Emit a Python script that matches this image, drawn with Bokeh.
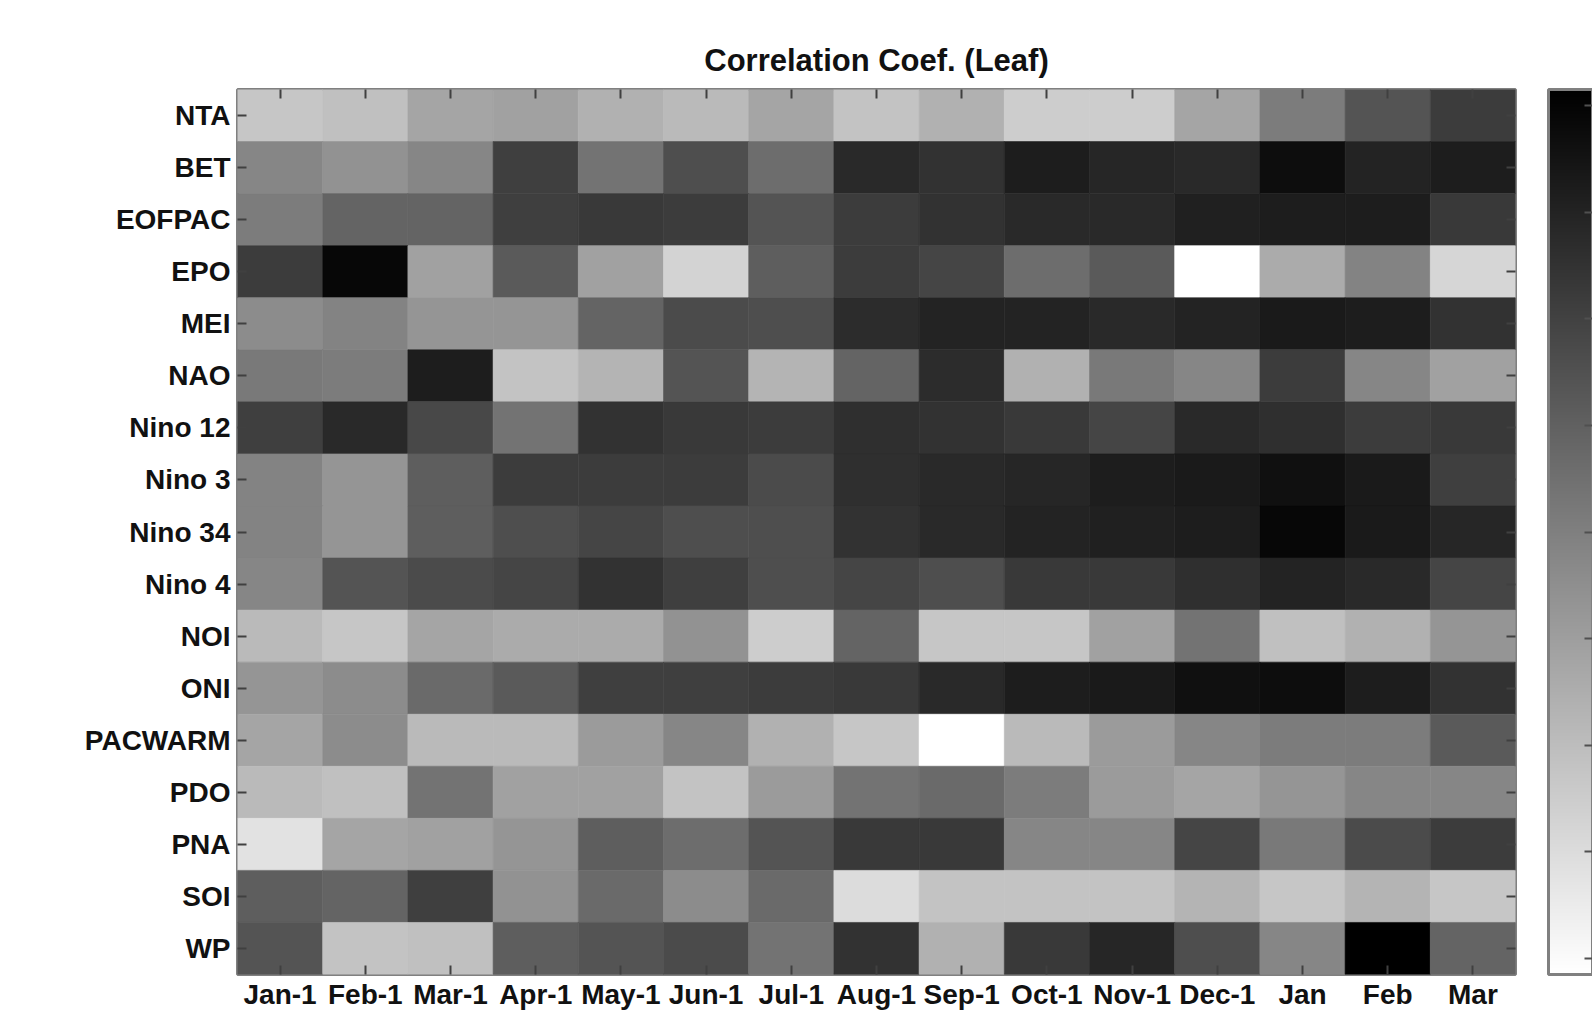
from bokeh.plotting import figure
from bokeh.models import (ColumnDataSource, LinearColorMapper, ColorBar, FixedTicker,
                          FactorRange, CategoricalAxis, CustomJSTickFormatter)
from bokeh.embed import file_html
from bokeh.resources import INLINE

title_text = "Correlation Coef. (Leaf)"

months = ["Jan-1", "Feb-1", "Mar-1", "Apr-1", "May-1", "Jun-1", "Jul-1", "Aug-1",
          "Sep-1", "Oct-1", "Nov-1", "Dec-1", "Jan", "Feb", "Mar"]

indices = ["NTA", "BET", "EOFPAC", "EPO", "MEI", "NAO", "Nino 12", "Nino 3",
           "Nino 34", "Nino 4", "NOI", "ONI", "PACWARM", "PDO", "PNA", "SOI", "WP"]

NTA = [-0.23, -0.21, -0.12, -0.11, -0.16, -0.19, -0.12, -0.22, -0.16, -0.25, -0.25, -0.12, 0.01, 0.14, 0.22]
BET = [-0.02, -0.06, -0.02, 0.21, 0.04, 0.16, 0.06, 0.28, 0.25, 0.32, 0.29, 0.28, 0.37, 0.30, 0.32]
EOFPAC = [0.01, 0.09, 0.09, 0.21, 0.23, 0.22, 0.14, 0.22, 0.25, 0.28, 0.28, 0.31, 0.32, 0.32, 0.23]
EPO = [0.22, 0.39, -0.11, 0.12, -0.11, -0.27, 0.11, 0.22, 0.19, 0.06, 0.12, -0.42, -0.14, -0.01, -0.28]
MEI = [-0.04, -0.01, -0.07, -0.07, 0.09, 0.17, 0.16, 0.27, 0.30, 0.30, 0.28, 0.30, 0.33, 0.32, 0.25]
NAO = [0.02, 0.01, 0.32, -0.22, -0.17, 0.14, -0.17, 0.09, 0.27, -0.16, 0.02, -0.02, 0.22, -0.02, -0.11]
NINO12 = [0.21, 0.28, 0.18, 0.04, 0.25, 0.23, 0.22, 0.26, 0.25, 0.23, 0.19, 0.28, 0.26, 0.22, 0.23]
NINO3 = [-0.01, -0.07, 0.11, 0.22, 0.22, 0.22, 0.17, 0.26, 0.28, 0.29, 0.32, 0.33, 0.36, 0.33, 0.21]
NINO34 = [-0.01, -0.07, 0.11, 0.16, 0.19, 0.16, 0.16, 0.25, 0.28, 0.30, 0.31, 0.32, 0.39, 0.33, 0.29]
NINO4 = [-0.02, 0.14, 0.17, 0.19, 0.25, 0.21, 0.16, 0.19, 0.16, 0.23, 0.23, 0.26, 0.30, 0.28, 0.19]
NOI = [-0.19, -0.23, -0.12, -0.14, -0.14, -0.06, -0.25, 0.09, -0.23, -0.23, -0.11, 0.04, -0.21, -0.16, -0.07]
ONI = [-0.07, -0.04, 0.07, 0.12, 0.21, 0.21, 0.22, 0.23, 0.28, 0.32, 0.33, 0.36, 0.37, 0.32, 0.25]
PACWARM = [-0.12, -0.04, -0.19, -0.19, -0.09, -0.02, -0.16, -0.23, -0.42, -0.19, -0.09, -0.02, 0.01, 0.01, 0.12]
PDO = [-0.19, -0.21, 0.04, -0.11, -0.11, -0.22, -0.09, 0.04, 0.07, 0.01, -0.09, -0.12, -0.07, -0.02, -0.02]
PNA = [-0.32, -0.12, -0.11, -0.07, 0.11, 0.06, 0.14, 0.23, 0.23, -0.02, -0.02, 0.19, 0.02, 0.17, 0.22]
SOI = [0.11, 0.09, 0.21, -0.06, 0.07, -0.04, 0.07, -0.30, -0.22, -0.22, -0.22, -0.17, -0.23, -0.17, -0.23]
WP = [0.14, -0.22, -0.21, 0.11, 0.14, 0.17, 0.04, 0.25, -0.16, 0.23, 0.29, 0.16, -0.02, 0.42, 0.09]

rows = [NTA, BET, EOFPAC, EPO, MEI, NAO, NINO12, NINO3, NINO34, NINO4,
        NOI, ONI, PACWARM, PDO, PNA, SOI, WP]

cb_ticks = [-0.4, -0.3, -0.2, -0.1, 0.0, 0.1, 0.2, 0.3, 0.4]

xs, ys, vals = [], [], []
for name, row in zip(indices, rows):
    for m, v in zip(months, row):
        xs.append(m)
        ys.append(name)
        vals.append(v)
source = ColumnDataSource(data=dict(month=xs, index=ys, r=vals))

# white (low) -> black (high) gray palette
palette = ["#%02x%02x%02x" % (255 - i, 255 - i, 255 - i) for i in range(256)]
mapper = LinearColorMapper(palette=palette, low=-0.415, high=0.415)

FONT = "Liberation Sans"

p = figure(width=1592, height=1018,
           x_range=FactorRange(factors=months),
           y_range=FactorRange(factors=list(reversed(indices))),
           output_backend="svg", toolbar_location=None,
           min_border_left=237, min_border_top=89, min_border_bottom=44,
           min_border_right=77)

p.rect(x="month", y="index", width=1, height=1, source=source,
       fill_color={"field": "r", "transform": mapper},
       line_color={"field": "r", "transform": mapper}, line_width=0.6)

p.title.text = title_text
p.title.align = "center"
p.title.text_font = FONT
p.title.text_font_size = "31px"
p.title.text_font_style = "bold"
p.title.text_color = "#111111"
p.title.standoff = 23

p.grid.visible = False
p.outline_line_color = "#808080"
p.outline_line_width = 3

for ax in (p.xaxis[0], p.yaxis[0]):
    ax.axis_line_color = None
    ax.major_tick_in = 9
    ax.major_tick_out = 0
    ax.major_tick_line_color = "#404040"
    ax.major_tick_line_width = 2
    ax.major_label_text_font = FONT
    ax.major_label_text_font_size = "28px"
    ax.major_label_text_font_style = "bold"
    ax.major_label_text_color = "#111111"
p.xaxis[0].major_label_standoff = 4
p.yaxis[0].major_label_standoff = 7

for loc in ("above", "right"):
    ax = CategoricalAxis(formatter=CustomJSTickFormatter(code="return '';"))
    ax.axis_line_color = None
    ax.major_tick_in = 9
    ax.major_tick_out = 0
    ax.major_tick_line_color = "#404040"
    ax.major_tick_line_width = 2
    ax.major_label_standoff = 0
    p.add_layout(ax, loc)

cb = ColorBar(color_mapper=mapper, ticker=FixedTicker(ticks=cb_ticks),
              formatter=CustomJSTickFormatter(code="return '';"),
              location=(33, 0),
              width=44, padding=0, margin=0,
              label_standoff=0,
              major_tick_in=8, major_tick_out=0,
              major_tick_line_color="#505050", major_tick_line_width=2,
              bar_line_color="#808080", bar_line_width=3,
              border_line_color=None, background_fill_color=None)
p.add_layout(cb, "right")

open("out.html", "w").write(file_html(p, INLINE))
